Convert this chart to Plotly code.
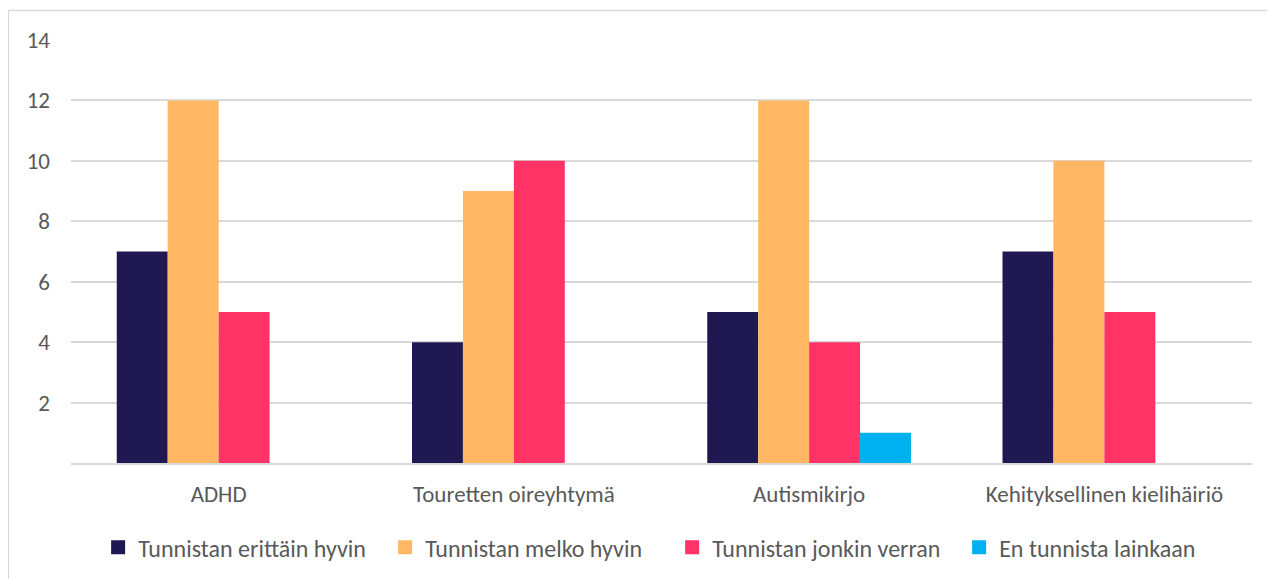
import plotly.graph_objects as go

categories = ["ADHD", "Touretten oireyhtymä", "Autismikirjo", "Kehityksellinen kielihäiriö"]

series_names = [
    "Tunnistan erittäin hyvin",
    "Tunnistan melko hyvin",
    "Tunnistan jonkin verran",
    "En tunnista lainkaan",
]
erittain = [7, 4, 5, 7]
melko = [12, 9, 12, 10]
jonkin = [5, 10, 4, 5]
ei_lainkaan = [0, 0, 1, 0]

colors = ["#201852", "#FFB763", "#FF3366", "#00B0F0"]

fig = go.Figure()
for name, vals, col in zip(series_names, [erittain, melko, jonkin, ei_lainkaan], colors):
    fig.add_trace(go.Bar(x=categories, y=vals, name=name, marker_color=col,
                         marker_line_width=0, legendgroup=name, showlegend=False))
    # legend-only proxy so the legend square is a bit bigger
    fig.add_trace(go.Scatter(x=[None], y=[None], mode="markers", name=name,
                             legendgroup=name,
                             marker=dict(symbol="square", size=14, color=col)))

# page body has an 8px margin, so margins are shifted by 8px
font = "Carlito, Lato, 'Open Sans', sans-serif"
fig.update_layout(
    width=1275, height=579,
    barmode="group", bargap=0.31, bargroupgap=0,
    plot_bgcolor="white", paper_bgcolor="white",
    margin=dict(l=63, r=31, t=32, b=124),
    font=dict(family=font, size=22, color="#595959"),
    showlegend=True,
    legend=dict(orientation="h", x=0.509, xanchor="center", y=-0.20, yanchor="middle",
                font=dict(size=24, color="#595959"), itemwidth=30,
                entrywidth=242, entrywidthmode="pixels",
                traceorder="normal"),
    xaxis=dict(showgrid=False, showline=True, linecolor="#D9D9D9", linewidth=1.5,
               ticks="", tickfont=dict(size=23), ticklabelstandoff=10),
    yaxis=dict(range=[0, 14], tickvals=[2, 4, 6, 8, 10, 12, 14], showgrid=True,
               gridcolor="#D9D9D9", gridwidth=1.5, zeroline=False, showline=False,
               ticks="", tickfont=dict(size=23), ticklabelstandoff=20),
    shapes=[
        dict(type="line", xref="paper", yref="paper", x0=-0.053, x1=1.03, y0=1.07, y1=1.07,
             line=dict(color="#D9D9D9", width=1.5)),
        dict(type="line", xref="paper", yref="paper", x0=-0.053, x1=-0.053, y0=1.07, y1=-0.3,
             line=dict(color="#D9D9D9", width=1.5)),
    ],
)

fig.write_html("out.html")
